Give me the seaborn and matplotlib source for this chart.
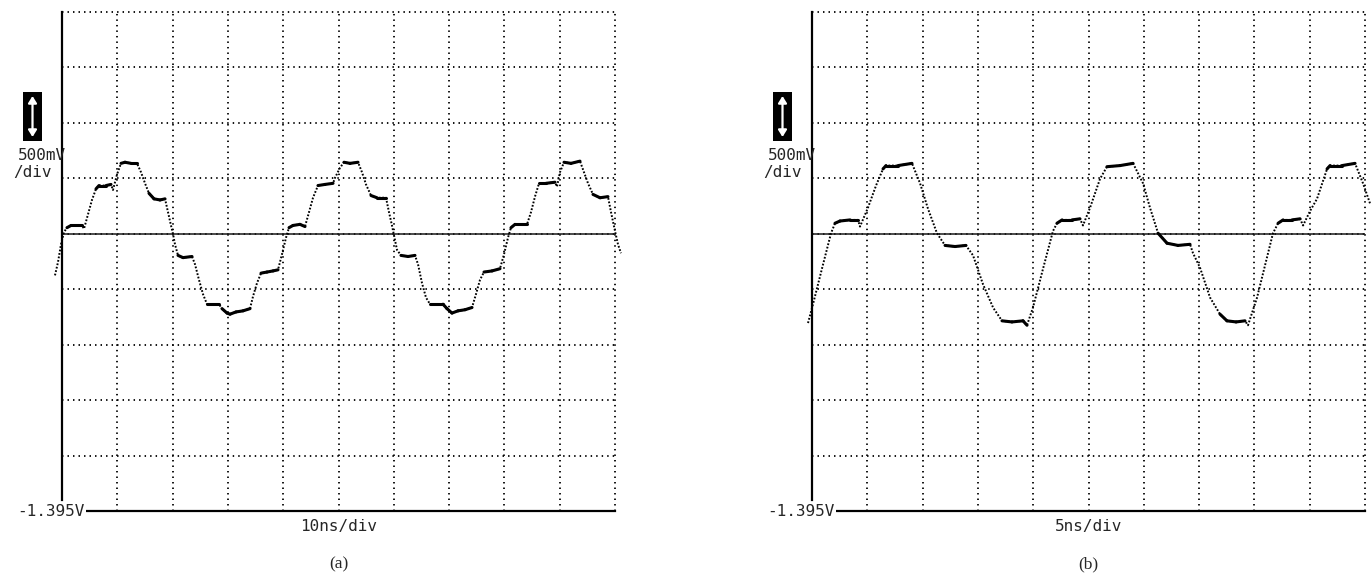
import numpy as np
import matplotlib
matplotlib.use("Agg")
import matplotlib.pyplot as plt
from matplotlib.collections import LineCollection
from matplotlib.patches import Rectangle, FancyArrowPatch
import seaborn as sns

# ------------------------------------------------------------
# Scope settings (same for both captures)
# ------------------------------------------------------------
volts_per_div = 0.5
screen_bottom_v = -1.395
n_ydiv = 9
n_xdiv = 10
marker_v = 1.105          # solid reference line on the screen

# (a) 10 ns/div capture
ns_per_div_a = 10
t_a = [-1.27, -0.72, -0.18, 0.36, 0.90, 1.63, 2.89, 3.62, 3.98, 4.70,
       5.42, 6.15, 6.69, 7.96, 8.86, 9.22, 9.95, 10.67, 11.39, 12.48,
       13.56, 14.29, 15.01, 15.73, 16.64, 17.72, 18.63, 19.17, 19.71, 20.07,
       20.43, 20.98, 21.88, 23.51, 24.05, 24.77, 25.50, 26.22, 27.31, 28.39,
       28.93, 29.84, 30.38, 31.46, 32.73, 34.00, 34.54, 35.26, 35.99, 37.07,
       38.16, 39.06, 39.78, 40.51, 41.05, 41.77, 43.04, 43.94, 44.67, 45.39,
       46.29, 47.56, 49.01, 49.37, 50.27, 50.99, 52.08, 53.53, 54.25, 54.97,
       55.88, 56.96, 58.59, 59.13, 59.67, 60.04, 60.58, 61.30, 62.57, 63.83,
       64.38, 65.10, 65.82, 66.55, 67.81, 68.90, 69.62, 70.52, 71.61, 72.88,
       74.14, 74.86, 75.59, 76.31, 77.76, 79.20, 79.93, 80.65, 81.19, 81.92,
       83.18, 84.09, 84.81, 85.53, 86.26, 87.52, 89.15, 89.51, 90.05, 90.78,
       92.04, 93.67, 94.39, 95.12, 96.02, 97.29, 98.73, 99.28, 100.00, 100.54,
       101.08]
v_a = [0.73, 0.85, 1.01, 1.12, 1.16, 1.18, 1.18, 1.18, 1.15, 1.28,
       1.41, 1.51, 1.54, 1.54, 1.55, 1.50, 1.64, 1.74, 1.75, 1.74,
       1.74, 1.66, 1.56, 1.47, 1.42, 1.41, 1.42, 1.30, 1.18, 1.105,
       1.01, 0.91, 0.89, 0.90, 0.83, 0.69, 0.56, 0.47, 0.47, 0.47,
       0.43, 0.39, 0.38, 0.40, 0.41, 0.43, 0.54, 0.66, 0.75, 0.76,
       0.77, 0.78, 0.92, 1.07, 1.16, 1.18, 1.19, 1.17, 1.30, 1.43,
       1.54, 1.55, 1.56, 1.61, 1.70, 1.75, 1.74, 1.75, 1.66, 1.55,
       1.45, 1.43, 1.43, 1.30, 1.18, 1.09, 0.96, 0.91, 0.90, 0.91,
       0.83, 0.66, 0.53, 0.47, 0.47, 0.47, 0.43, 0.39, 0.41, 0.42,
       0.44, 0.56, 0.69, 0.76, 0.77, 0.79, 0.92, 1.07, 1.16, 1.19,
       1.19, 1.19, 1.30, 1.44, 1.56, 1.56, 1.57, 1.53, 1.66, 1.75,
       1.74, 1.76, 1.66, 1.56, 1.46, 1.43, 1.44, 1.30, 1.13, 1.01,
       0.93]

# (b) 5 ns/div capture
ns_per_div_b = 5
t_b = [-0.36, 0.09, 0.90, 1.72, 2.08, 2.53, 3.44, 4.16, 4.34, 5.06,
       5.79, 6.42, 6.69, 7.78, 9.04, 9.77, 10.49, 11.30, 12.03, 12.93,
       13.92, 14.56, 15.46, 16.37, 17.18, 18.08, 19.08, 19.44, 19.98, 20.89,
       21.79, 22.15, 22.61, 23.51, 24.23, 24.50, 25.14, 26.04, 26.67, 27.85,
       29.03, 29.93, 30.56, 31.29, 32.10, 33.09, 34.18, 34.45, 35.08, 35.99,
       36.89, 37.52, 38.34, 39.15, 39.42, 40.24, 40.96, 41.68, 42.14, 42.59,
       43.40, 44.13, 44.40, 45.03, 45.66, 46.57, 46.84, 47.92, 49.10, 49.82,
       50.45]
v_b = [0.30, 0.47, 0.79, 1.11, 1.20, 1.22, 1.23, 1.23, 1.17, 1.34,
       1.54, 1.69, 1.72, 1.72, 1.74, 1.56, 1.33, 1.11, 1.00, 0.99,
       1.00, 0.91, 0.65, 0.44, 0.32, 0.31, 0.32, 0.28, 0.44, 0.79,
       1.13, 1.20, 1.23, 1.23, 1.24, 1.18, 1.34, 1.60, 1.71, 1.72,
       1.74, 1.56, 1.34, 1.11, 1.02, 1.00, 1.01, 0.93, 0.80, 0.53,
       0.38, 0.32, 0.31, 0.32, 0.28, 0.53, 0.82, 1.11, 1.20, 1.23,
       1.23, 1.24, 1.18, 1.31, 1.42, 1.69, 1.72, 1.72, 1.74, 1.56,
       1.38]

scale_text = ["500mV", "/div"]
bottom_text = "-1.395V"
xlabels = ["10ns/div", "5ns/div"]
tags = ["(a)", "(b)"]

# ------------------------------------------------------------
# Figure layout (pixel based, 1372 x 575)
# ------------------------------------------------------------
W, H = 1372, 575
PANEL_LEFT = [62, 812]
PANEL_W = 553
PANEL_TOP, PANEL_BOTTOM = 12, 511
MONO = "DejaVu Sans Mono"
SERIF = "Liberation Serif"

sns.set_style("white")
plt.rcParams["font.family"] = ["DejaVu Sans"]

fig = plt.figure(figsize=(W / 100, H / 100), dpi=100)


def fx(px):
    return px / W


def fy(py):
    return 1 - py / H


def draw_panel(left, t, v, ns_per_div, xlabel, tag):
    ax = fig.add_axes([fx(left), fy(PANEL_BOTTOM), PANEL_W / W,
                       (PANEL_BOTTOM - PANEL_TOP) / H])
    x_max = n_xdiv * ns_per_div
    y_top = screen_bottom_v + n_ydiv * volts_per_div
    ax.set_xlim(0, x_max)
    ax.set_ylim(screen_bottom_v, y_top)

    # dotted graticule (outer top/right lines included)
    ax.set_xticks(np.arange(1, n_xdiv + 1) * ns_per_div)
    ax.set_yticks(screen_bottom_v + np.arange(1, n_ydiv + 1) * volts_per_div)
    ax.grid(True, color="black", linewidth=1.3, linestyle=(0, (0.8, 2.25)))
    ax.tick_params(length=0, labelbottom=False, labelleft=False)
    for gl in ax.get_xgridlines() + ax.get_ygridlines():
        gl.set_clip_on(False)

    for s in ("top", "right"):
        ax.spines[s].set_visible(False)
    ax.spines["left"].set_linewidth(1.6)
    ax.spines["left"].set_color("black")
    ax.spines["left"].set_bounds(screen_bottom_v + 0.1, y_top)
    ax.spines["bottom"].set_linewidth(1.6)
    ax.spines["bottom"].set_color("black")
    ax.spines["bottom"].set_bounds(0.042 * x_max, x_max)

    ax.axhline(marker_v, color="#1a1a1a", linewidth=1.1)

    # trace: fast edges look dotted, plateaus look solid and thick
    sns.lineplot(x=t, y=v, ax=ax, color="black", linewidth=1.4,
                 linestyle=(0, (0.9, 0.9)), sort=False, estimator=None)
    ax.lines[-1].set_clip_on(False)

    sx = PANEL_W / x_max
    sy = (PANEL_BOTTOM - PANEL_TOP) / (y_top - screen_bottom_v)
    segs = []
    for i in range(len(t) - 1):
        dx = (t[i + 1] - t[i]) * sx
        dy = (v[i + 1] - v[i]) * sy
        if abs(dy) < 1.3 * abs(dx):
            segs.append([(t[i], v[i]), (t[i + 1], v[i + 1])])
    lc = LineCollection(segs, colors="black", linewidths=2.2,
                        capstyle="round")
    lc.set_clip_on(False)
    ax.add_collection(lc)

    # scale icon (black box with a white double arrow)
    fig.add_artist(Rectangle((fx(left - 39), fy(141)), 19 / W, 49 / H,
                             transform=fig.transFigure, zorder=3,
                             facecolor="black", edgecolor="none"))
    fig.add_artist(FancyArrowPatch(
        (fx(left - 29.5), fy(137)), (fx(left - 29.5), fy(96)),
        transform=fig.transFigure, zorder=4,
        arrowstyle="<|-|>,head_length=4,head_width=2.5",
        color="white", linewidth=1.6, shrinkA=0, shrinkB=0))

    fig.text(fx(left + 4), fy(155), scale_text[0], ha="right", va="center",
             family=MONO, fontsize=11.5)
    fig.text(fx(left - 49), fy(172), scale_text[1], ha="left", va="center",
             family=MONO, fontsize=11.5)
    fig.text(fx(left + 23), fy(511), bottom_text, ha="right", va="center",
             family=MONO, fontsize=11.5,
             bbox=dict(facecolor="white", edgecolor="none", pad=0.5))
    fig.text(fx(left + PANEL_W / 2), fy(526), xlabel, ha="center",
             va="center", family=MONO, fontsize=11.5)
    fig.text(fx(left + PANEL_W / 2), fy(564), tag, ha="center", va="center",
             family=SERIF, fontsize=12.5)
    return ax


draw_panel(PANEL_LEFT[0], t_a, v_a, ns_per_div_a, xlabels[0], tags[0])
draw_panel(PANEL_LEFT[1], t_b, v_b, ns_per_div_b, xlabels[1], tags[1])

fig.savefig("out.png", dpi=100)
